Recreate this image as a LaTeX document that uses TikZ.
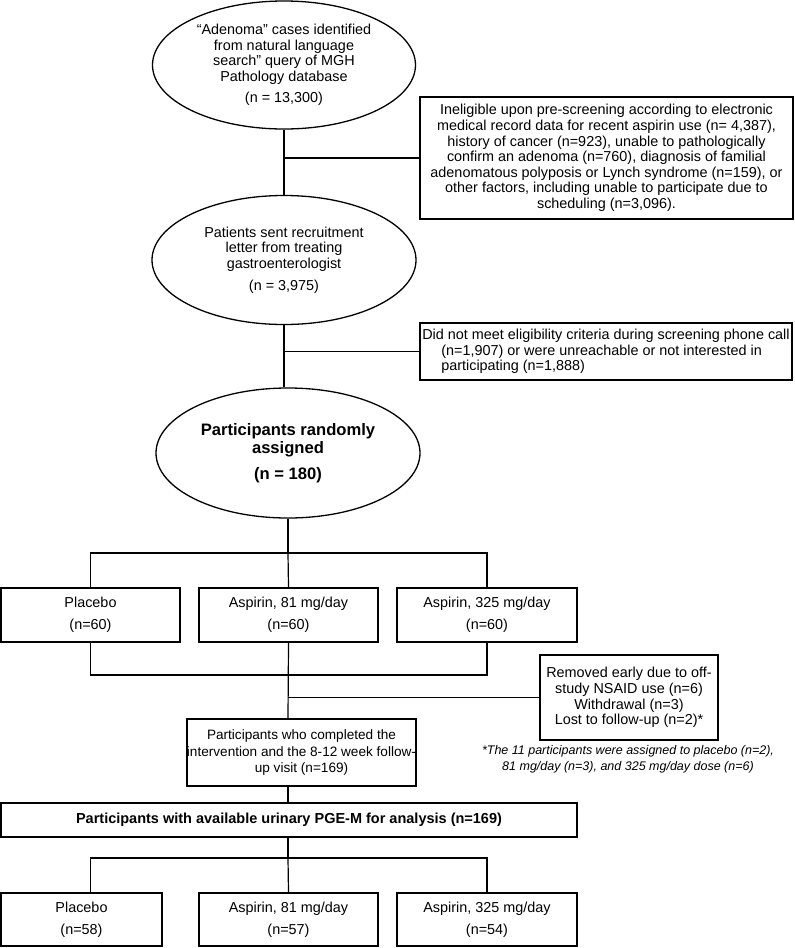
\documentclass[tikz,border=0pt]{standalone}
\usepackage{fontspec}
\setmainfont{Liberation Sans}
\usepackage{tikz}
\usetikzlibrary{shapes.geometric}

\begin{document}
\begin{tikzpicture}[x=1pt, y=-1pt,
        every node/.style={font=\fontsize{14.4}{15.6}\selectfont, align=center, inner sep=0pt},
        oval/.style={draw, ellipse, line width=1.3pt},
        box/.style={draw, rectangle, line width=1.4pt},
        link/.style={line width=1.2pt}]
        \useasboundingbox (0,0) rectangle (795,948);
        \node[oval, minimum width=263pt, minimum height=128pt] (adenoma) at (284,65) {“Adenoma” cases identified\\from natural language\\search” query of MGH\\Pathology database\\[6pt](n = 13,300)};
        \node[box, minimum width=373pt, minimum height=122pt] (inelig) at (606.5,158) {Ineligible upon pre-screening according to electronic\\medical record data for recent aspirin use (n= 4,387),\\history of cancer (n=923), unable to pathologically\\confirm an adenoma (n=760), diagnosis of familial\\adenomatous polyposis or Lynch syndrome (n=159), or\\other factors, including unable to participate due to\\scheduling (n=3,096).};
        \node[oval, minimum width=264pt, minimum height=129pt] (letter) at (284,260) {Patients sent recruitment\\letter from treating\\gastroenterologist\\[6pt](n = 3,975)};
        \node[box, minimum width=372pt, minimum height=57pt, align=left] (noelig) at (606,351.5) {Did not meet eligibility criteria during screening phone call\\\hspace*{19pt}(n=1,907) or were unreachable or not interested in\\\hspace*{19pt}participating (n=1,888)};
        \node[oval, minimum width=264pt, minimum height=130pt, font=\fontsize{16.6}{18.3}\selectfont\bfseries] (rand) at (288,453) {Participants randomly\\assigned\\[7pt](n = 180)};
        \node[box, minimum width=179pt, minimum height=54pt] (plac) at (90.5,615) {Placebo\\[6pt](n=60)};
        \node[box, minimum width=179pt, minimum height=54pt] (asa81) at (288.5,615) {Aspirin, 81 mg/day\\[6pt](n=60)};
        \node[box, minimum width=180pt, minimum height=54pt] (asa325) at (487,615) {Aspirin, 325 mg/day\\[6pt](n=60)};
        \node[box, minimum width=178pt, minimum height=85pt] (removed) at (629,697.5) {Removed early due to off-\\study NSAID use (n=6)\\Withdrawal (n=3)\\Lost to follow-up (n=2)*};
        \node[font=\fontsize{12.5}{15.5}\selectfont\itshape] (note) at (628,759.5) {*The 11 participants were assigned to placebo (n=2),\\81 mg/day (n=3), and 325 mg/day dose (n=6)};
        \node[box, minimum width=227pt, minimum height=67pt, font=\fontsize{13.6}{16.5}\selectfont] (done) at (301.5,752.5) {Participants who completed the\\intervention and the 8-12 week follow-\\up visit (n=169)};
        \node[box, minimum width=576pt, minimum height=34pt, font=\fontsize{14.5}{16}\selectfont\bfseries] (pgem) at (289,820) {Participants with available urinary PGE-M for analysis (n=169)};
        \node[box, minimum width=161pt, minimum height=53pt] (placB) at (81.5,919.5) {Placebo\\[6pt](n=58)};
        \node[box, minimum width=179pt, minimum height=53pt] (asa81B) at (288.5,919.5) {Aspirin, 81 mg/day\\[6pt](n=57)};
        \node[box, minimum width=180pt, minimum height=53pt] (asa325B) at (487,919.5) {Aspirin, 325 mg/day\\[6pt](n=54)};
        \coordinate (split) at (288,553);
        \coordinate (merge) at (288,675);
        \coordinate (splitB) at (288,858);
        \draw[link] (adenoma.south) -- (letter.north);
        \draw[link] (adenoma.south |- inelig.west) -- (inelig.west);
        \draw[link] (letter.south) -- (letter.south |- rand.north);
        \draw[link] (letter.south |- noelig.west) -- (noelig.west);
        \draw[link] (rand.south) -- (split);
        \draw[link] (plac.north) |- (split) -| (asa325.north);
        \draw[link] (split) -- (asa81.north);
        \draw[link] (plac.south) |- (merge) -| (asa325.south);
        \draw[link] (asa81.south) -- (merge |- done.north);
        \draw[link] (merge |- removed.west) -- (removed.west);
        \draw[link] (merge |- done.south) -- (merge |- pgem.north);
        \draw[link] (merge |- pgem.south) -- (splitB);
        \draw[link] (plac.south |- placB.north) |- (splitB) -| (asa325B.north);
        \draw[link] (splitB) -- (asa81B.north);
\end{tikzpicture}
\end{document}
